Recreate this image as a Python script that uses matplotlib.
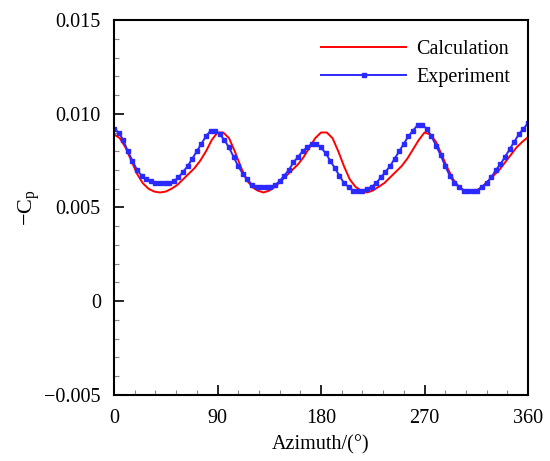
import numpy as np
import matplotlib
matplotlib.use('Agg')
import matplotlib.pyplot as plt
from matplotlib.ticker import MultipleLocator

plt.rcParams['font.family'] = ['Liberation Serif', 'DejaVu Serif']
plt.rcParams['mathtext.fontset'] = 'custom'
plt.rcParams['mathtext.rm'] = 'Liberation Serif'
plt.rcParams['mathtext.it'] = 'Liberation Serif'

# calculation sampled every 5 degrees
azimuth_calc = np.arange(0, 361, 5)
cp_calc = [
    0.0089, 0.0087, 0.0082, 0.0075, 0.0068, 0.0063, 0.0060, 0.00585, 0.0058, 0.00585,
    0.0060, 0.0062, 0.0065, 0.0068, 0.0071, 0.0075, 0.0080, 0.0086, 0.0090, 0.0090,
    0.0087, 0.0080, 0.0072, 0.0065, 0.0061, 0.0059, 0.0058, 0.0059, 0.0061, 0.0064,
    0.0067, 0.0070, 0.0073, 0.0077, 0.0082, 0.0087, 0.0090, 0.0090, 0.0087, 0.0080,
    0.0072, 0.0065, 0.0061, 0.0059, 0.0058, 0.0059, 0.0061, 0.0063, 0.0066, 0.0069,
    0.0072, 0.0076, 0.0081, 0.0086, 0.0090, 0.0089, 0.0085, 0.0078, 0.0071, 0.0065,
    0.0061, 0.0059, 0.0058, 0.0059, 0.0061, 0.0064, 0.0067, 0.0070, 0.0074, 0.0078,
    0.0082, 0.0085, 0.00875,
]

# experiment sampled every 4 degrees
azimuth_exp = np.arange(0, 361, 4)
cp_exp = [
    0.0092, 0.0090, 0.0086, 0.0080, 0.0075, 0.0070, 0.0067, 0.0065, 0.0064, 0.0063,
    0.0063, 0.0063, 0.0063, 0.0064, 0.0066, 0.0069, 0.0072, 0.0076, 0.0080, 0.0084,
    0.0088, 0.0091, 0.0091, 0.0089, 0.0086, 0.0082, 0.0077, 0.0072, 0.0068, 0.0065,
    0.0062, 0.0061, 0.0061, 0.0061, 0.0061, 0.0062, 0.0064, 0.0067, 0.0070, 0.0074,
    0.0077, 0.0080, 0.0082, 0.0084, 0.0084, 0.0082, 0.0079, 0.0075, 0.0071, 0.0067,
    0.0063, 0.0061, 0.0059, 0.0059, 0.0059, 0.0060, 0.0061, 0.0063, 0.0066, 0.0069,
    0.0072, 0.0076, 0.0080, 0.0084, 0.0088, 0.0091, 0.0094, 0.0094, 0.0092, 0.0088,
    0.0083, 0.0078, 0.0072, 0.0067, 0.0063, 0.0061, 0.0059, 0.0059, 0.0059, 0.0059,
    0.0061, 0.0063, 0.0066, 0.0070, 0.0073, 0.0077, 0.0081, 0.0085, 0.0089, 0.0092,
    0.0095,
]

fig = plt.figure(figsize=(5.5, 4.61), dpi=100)
ax = fig.add_axes([0.2073, 0.1432, 0.7527, 0.8134])

ax.plot(azimuth_calc, cp_calc, color='#ff0000', lw=1.4, label='Calculation')
ax.plot(azimuth_exp, cp_exp, color='#2a2aff', lw=1.4, marker='s', ms=3.3,
        label='Experiment')

ax.set_xlim(0, 360)
ax.set_ylim(-0.005, 0.015)
ax.xaxis.set_major_locator(MultipleLocator(90))
ax.xaxis.set_minor_locator(MultipleLocator(18))
ax.yaxis.set_major_locator(MultipleLocator(0.005))
ax.yaxis.set_minor_locator(MultipleLocator(0.001))
ax.set_yticklabels(['\u22120.005' if t < 0 else ('0' if t == 0 else f'{t:.3f}')
                    for t in ax.get_yticks()])

ax.tick_params(which='both', direction='in', labelsize=14.5, width=1.2)
ax.tick_params(which='major', length=7)
ax.tick_params(axis='x', which='major', pad=10)
ax.tick_params(axis='y', which='major', pad=9.5)
ax.tick_params(which='minor', length=3.5, width=0.8, color='#888888')
for s in ax.spines.values():
    s.set_linewidth(1.5)

ax.set_xlabel('Azimuth/(\u00b0)', fontsize=14.5, labelpad=5)
ax.set_ylabel('$-C_p$', fontsize=16, labelpad=2)

ax.legend(loc='upper right', frameon=False, fontsize=14.5, handlelength=4.2,
          numpoints=1, handletextpad=0.5, labelspacing=0.45,
          bbox_to_anchor=(1.0, 0.995))

fig.savefig('out.png', dpi=100)
